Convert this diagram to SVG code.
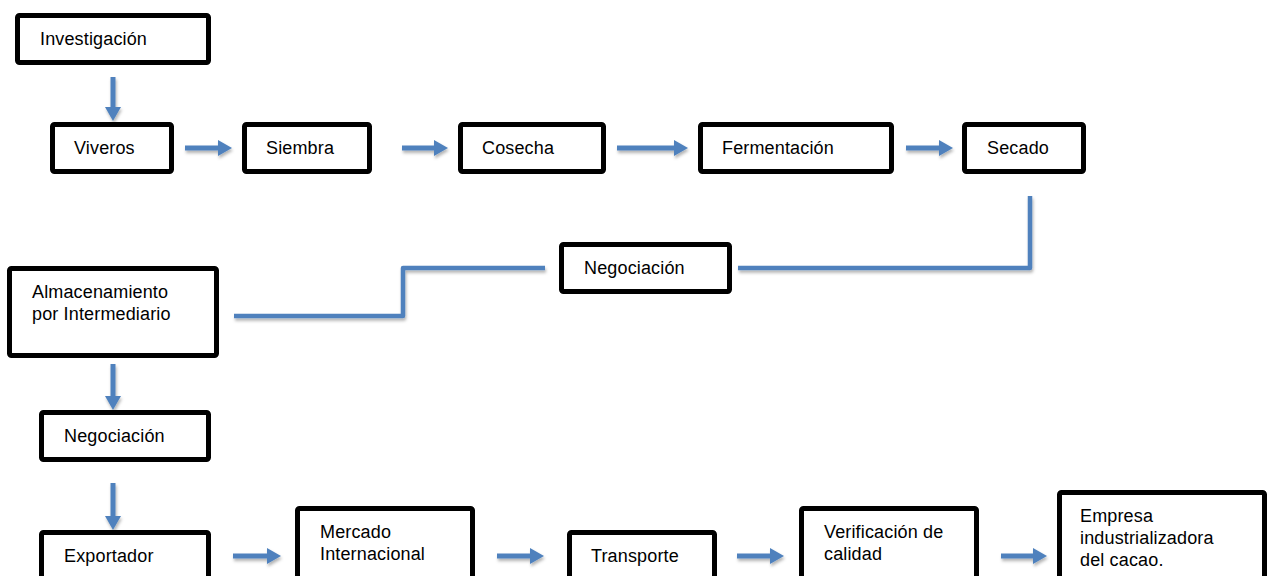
<svg xmlns="http://www.w3.org/2000/svg" width="1272" height="576" viewBox="0 0 1272 576">
<style>
.box{fill:#fff;stroke:#000;stroke-width:5;}
.t{font-family:"Liberation Sans",Arial,sans-serif;font-size:18px;letter-spacing:0.15px;fill:#000;}
.ar{stroke:#4F81BD;stroke-width:5;fill:none;}
.ln{stroke:#4F81BD;stroke-width:4.5;fill:none;stroke-linejoin:round;}
</style>
<defs>
<filter id="sh" x="-20%" y="-20%" width="140%" height="160%">
<feDropShadow dx="1" dy="2.5" stdDeviation="1.5" flood-color="#000" flood-opacity="0.3"/>
</filter>
<marker id="ah" markerUnits="userSpaceOnUse" markerWidth="16" markerHeight="18" refX="2" refY="8" orient="auto">
<path d="M0,0 L14,8 L0,16 z" fill="#4F81BD"/>
</marker>
</defs>
<rect width="1272" height="576" fill="#fff"/>
<g id="connectors" filter="url(#sh)">
<line class="ar" x1="113" y1="77" x2="113" y2="109" marker-end="url(#ah)"/>
<line class="ar" x1="185" y1="148" x2="220" y2="148" marker-end="url(#ah)"/>
<line class="ar" x1="402" y1="148" x2="436" y2="148" marker-end="url(#ah)"/>
<line class="ar" x1="617" y1="148" x2="676" y2="148" marker-end="url(#ah)"/>
<line class="ar" x1="906" y1="148" x2="941" y2="148" marker-end="url(#ah)"/>
<polyline class="ln" points="1030,196 1030,268 738,268"/>
<polyline class="ln" points="545,268 403,268 403,316 234,316"/>
<line class="ar" x1="113" y1="364" x2="113" y2="398" marker-end="url(#ah)"/>
<line class="ar" x1="113" y1="483" x2="113" y2="518" marker-end="url(#ah)"/>
<line class="ar" x1="233" y1="556" x2="269" y2="556" marker-end="url(#ah)"/>
<line class="ar" x1="497" y1="556" x2="532" y2="556" marker-end="url(#ah)"/>
<line class="ar" x1="737" y1="556" x2="772" y2="556" marker-end="url(#ah)"/>
<line class="ar" x1="1001" y1="556" x2="1035" y2="556" marker-end="url(#ah)"/>
</g>
<g id="investigacion"><rect class="box" x="17.5" y="15.5" width="191" height="47" rx="2"/><text class="t" x="40" y="45">Investigación</text></g>
<g id="viveros"><rect class="box" x="52.5" y="124.5" width="119" height="47" rx="2"/><text class="t" x="74" y="154">Viveros</text></g>
<g id="siembra"><rect class="box" x="244.5" y="124.5" width="125" height="47" rx="2"/><text class="t" x="266" y="154">Siembra</text></g>
<g id="cosecha"><rect class="box" x="460.5" y="124.5" width="143" height="47" rx="2"/><text class="t" x="482" y="154">Cosecha</text></g>
<g id="fermentacion"><rect class="box" x="700.5" y="124.5" width="191" height="47" rx="2"/><text class="t" x="722" y="154">Fermentación</text></g>
<g id="secado"><rect class="box" x="964.5" y="124.5" width="119" height="47" rx="2"/><text class="t" x="987" y="154">Secado</text></g>
<g id="negociacion1"><rect class="box" x="561.5" y="244.5" width="168" height="47" rx="2"/><text class="t" x="584" y="274">Negociación</text></g>
<g id="almacenamiento"><rect class="box" x="9.5" y="268.5" width="207" height="87" rx="2"/><text class="t" x="32" y="298">Almacenamiento</text><text class="t" x="32" y="320">por Intermediario</text></g>
<g id="negociacion2"><rect class="box" x="41.5" y="412.5" width="167" height="47" rx="2"/><text class="t" x="64" y="442">Negociación</text></g>
<g id="exportador"><rect class="box" x="41.5" y="532.5" width="167" height="50" rx="2"/><text class="t" x="64" y="562">Exportador</text></g>
<g id="mercado"><rect class="box" x="297.5" y="508.5" width="175" height="74" rx="2"/><text class="t" x="320" y="538">Mercado</text><text class="t" x="320" y="560">Internacional</text></g>
<g id="transporte"><rect class="box" x="569.5" y="532.5" width="145" height="50" rx="2"/><text class="t" x="591" y="562">Transporte</text></g>
<g id="verificacion"><rect class="box" x="801.5" y="508.5" width="175" height="74" rx="2"/><text class="t" x="824" y="538">Verificación de</text><text class="t" x="824" y="560">calidad</text></g>
<g id="empresa"><rect class="box" x="1059.5" y="492.5" width="205" height="90" rx="2"/><text class="t" x="1080" y="522">Empresa</text><text class="t" x="1080" y="544">industrializadora</text><text class="t" x="1080" y="566">del cacao.</text></g>
</svg>
